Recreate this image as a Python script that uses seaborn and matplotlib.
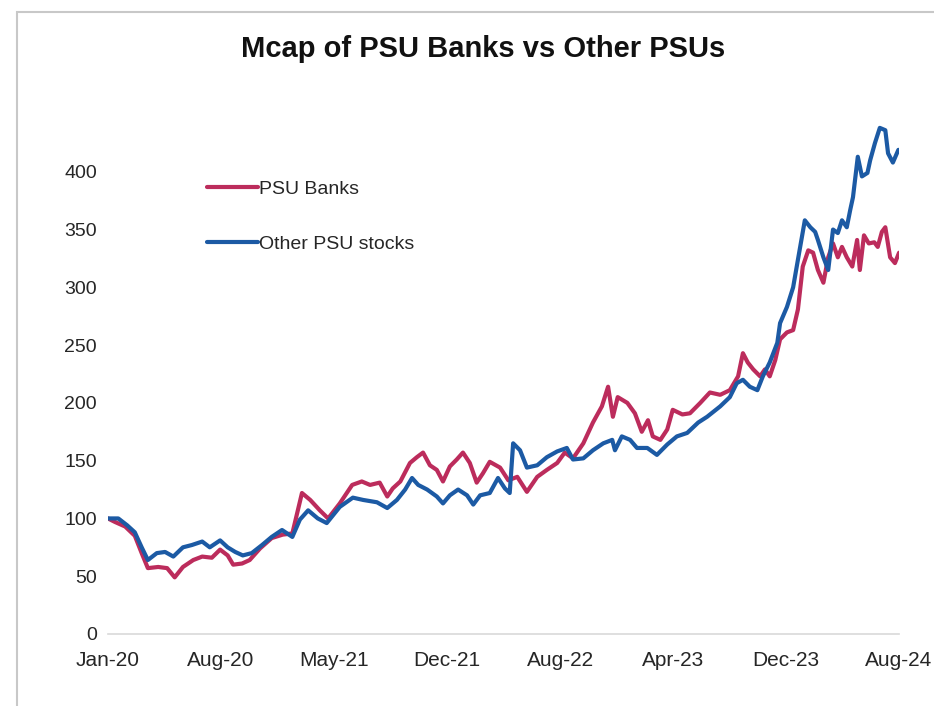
import matplotlib.pyplot as plt
import seaborn as sns
import pandas as pd
import numpy as np
from matplotlib.patches import Rectangle

# trading-day index (0 = Jan-20, 1150 = Aug-24) and indexed mcap values
bank_day = [0, 10, 25, 39, 49, 58, 73, 86, 97, 109, 124, 137, 151, 163, 174, 182, 195, 206,
            221, 238, 254, 268, 282, 294, 308, 320, 337, 355, 369, 381, 395, 406, 414, 425,
            439, 449, 458, 468, 478, 487, 497, 507, 516, 526, 536, 545, 555, 570, 582, 595,
            609, 624, 638, 653, 664, 676, 691, 705, 718, 727, 734, 741, 755, 766, 776, 785,
            792, 803, 813, 821, 835, 846, 861, 875, 890, 904, 916, 923, 930, 938, 948, 955,
            962, 970, 977, 987, 996, 1003, 1010, 1018, 1025, 1032, 1040, 1047, 1054, 1061,
            1067, 1074, 1082, 1089, 1093, 1099, 1106, 1114, 1119, 1125, 1130, 1137, 1144, 1150]
bank_val = [100, 97, 93, 85, 70, 57, 58, 57, 49, 58, 64, 67, 66, 73, 68, 60, 61, 64,
            74, 83, 86, 87, 122, 116, 107, 100, 113, 129, 132, 129, 131, 119, 126, 132,
            148, 153, 157, 146, 142, 132, 145, 151, 157, 148, 131, 139, 149, 144, 133, 136,
            123, 136, 142, 148, 157, 152, 165, 183, 197, 214, 188, 205, 200, 191, 175, 185,
            171, 168, 177, 194, 190, 191, 200, 209, 207, 211, 223, 243, 235, 229, 223, 229,
            223, 237, 255, 261, 263, 281, 318, 332, 330, 315, 304, 326, 338, 326,
            335, 326, 318, 341, 315, 345, 338, 339, 335, 348, 352, 326, 321, 330]

other_day = [0, 15, 28, 39, 49, 58, 71, 83, 95, 109, 122, 137, 148, 163, 174, 185, 196, 209,
             224, 238, 253, 268, 279, 291, 305, 318, 337, 356, 371, 391, 406, 420, 432, 442,
             451, 464, 478, 487, 497, 509, 522, 531, 541, 555, 567, 577, 584, 589, 599, 609,
             624, 638, 653, 667, 676, 691, 705, 720, 733, 737, 747, 759, 769, 784, 798, 813,
             827, 842, 858, 871, 890, 904, 914, 923, 933, 944, 952, 962, 973, 977, 987, 996,
             1003, 1013, 1021, 1028, 1032, 1040, 1047, 1054, 1061, 1067, 1074, 1079, 1083,
             1090, 1096, 1104, 1108, 1115, 1122, 1130, 1134, 1141, 1149]
other_val = [100, 100, 94, 88, 75, 64, 70, 71, 67, 75, 77, 80, 75, 81, 75, 71, 68, 70,
             77, 84, 90, 84, 99, 107, 100, 96, 110, 118, 116, 114, 109, 116, 125, 135,
             129, 125, 119, 113, 120, 125, 120, 112, 120, 122, 135, 126, 122, 165, 159, 144,
             146, 153, 158, 161, 151, 152, 159, 165, 168, 159, 171, 168, 161, 161, 155, 164,
             171, 174, 183, 188, 197, 205, 217, 220, 214, 211, 223, 235, 252, 269, 283, 300,
             324, 358, 352, 348, 341, 326, 315, 350, 347, 358, 352, 367, 378,
             413, 396, 399, 410, 425, 438, 436, 416, 408, 419]

tick_labels = ['Jan-20', 'Aug-20', 'May-21', 'Dec-21', 'Aug-22', 'Apr-23', 'Dec-23', 'Aug-24']

sns.set_style('white')
plt.rcParams['font.family'] = ['Liberation Sans', 'DejaVu Sans']

fig = plt.figure(figsize=(9.34, 7.06), dpi=100)
ax = fig.add_axes([0.1156, 0.102, 0.847, 0.7365])

banks = pd.DataFrame({'day': bank_day, 'value': bank_val})
others = pd.DataFrame({'day': other_day, 'value': other_val})
sns.lineplot(data=banks, x='day', y='value', ax=ax, color='#bc2c5c', lw=3, label='PSU Banks')
sns.lineplot(data=others, x='day', y='value', ax=ax, color='#1c5aa4', lw=3, label='Other PSU stocks')

ax.set_xlim(0, 1150)
ax.set_ylim(0, 450)
ax.set_yticks(range(0, 401, 50))
ax.set_xticks(np.linspace(0, 1150, len(tick_labels)))
ax.set_xticklabels(tick_labels)
ax.set_xlabel('')
ax.set_ylabel('')

for side in ['top', 'right', 'left']:
    ax.spines[side].set_visible(False)
ax.spines['bottom'].set_color('#d9d9d9')
ax.spines['bottom'].set_linewidth(1.2)
ax.tick_params(axis='x', direction='in', length=5, color='#d9d9d9', labelsize=15, pad=12,
               labelcolor='#262626')
ax.tick_params(axis='y', length=0, labelsize=14, pad=8, labelcolor='#262626')

ax.legend(loc='upper left', bbox_to_anchor=(0.2216, 1 - 180 / 706), bbox_transform=fig.transFigure,
          frameon=False, fontsize=14, handlelength=2.6, handletextpad=0.1, labelspacing=1.95,
          borderpad=0, borderaxespad=0)

fig.text(0.517, 1 - 49 / 706, 'Mcap of PSU Banks vs Other PSUs', ha='center', va='center',
         fontsize=21, fontweight='bold', color='#111111')

# thin frame of the chart area
fig.patches.append(Rectangle((17 / 934, -0.1), 1.2, 1 - 12 / 706 + 0.1, transform=fig.transFigure,
                             fill=False, edgecolor='#c8c8c8', lw=1.5))

fig.savefig('out.png', dpi=100)
